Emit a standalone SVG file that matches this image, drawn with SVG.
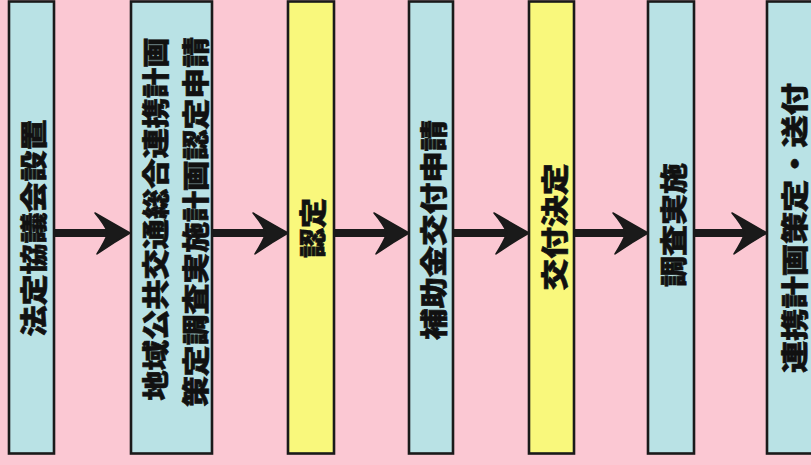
<svg xmlns="http://www.w3.org/2000/svg" width="811" height="465" viewBox="0 0 811 465">
<style>
.box{stroke:#1a1a1a;stroke-width:2.6}
.blue{fill:#b9e2e5}
.yellow{fill:#f9f87c}
.lbl{font-family:"Noto Sans CJK JP","Noto Sans CJK SC",sans-serif;font-weight:900;font-size:27px;fill:#111;stroke:#111;stroke-width:0.6;text-anchor:middle;dominant-baseline:central}
.conn{stroke:#1a1a1a;stroke-width:8;fill:none}
</style>
<defs>
<marker id="ah" viewBox="-56 -22 58 44" refX="-20" refY="0" markerWidth="58" markerHeight="44" markerUnits="userSpaceOnUse" orient="auto">
<path d="M0,0 Q-16,-9 -35,-20 Q-25,-8 -22,0 Q-25,8 -33,21 Q-16,9 0,0 Z" fill="#1a1a1a" stroke="#1a1a1a" stroke-width="1.5" stroke-linejoin="round"/>
</marker>
</defs>
<rect width="811" height="465" fill="#fbc8d3"/>
<g id="connectors">
<line class="conn" x1="54" y1="233" x2="110" y2="233" marker-end="url(#ah)"/>
<line class="conn" x1="212" y1="233" x2="268" y2="233" marker-end="url(#ah)"/>
<line class="conn" x1="334" y1="233" x2="389" y2="233" marker-end="url(#ah)"/>
<line class="conn" x1="453" y1="233" x2="509" y2="233" marker-end="url(#ah)"/>
<line class="conn" x1="574" y1="233" x2="628" y2="233" marker-end="url(#ah)"/>
<line class="conn" x1="694" y1="233" x2="747" y2="233" marker-end="url(#ah)"/>
</g>
<g id="n1">
<rect class="box blue" x="9" y="1.5" width="45" height="452"/>
<text class="lbl" transform="translate(32,228) rotate(-90)" textLength="217" lengthAdjust="spacingAndGlyphs">法定協議会設置</text>
</g>
<g id="n2">
<rect class="box blue" x="131" y="1.5" width="81" height="452"/>
<text class="lbl" transform="translate(154,219) rotate(-90)" textLength="363" lengthAdjust="spacingAndGlyphs">地域公共交通総合連携計画</text>
<text class="lbl" transform="translate(194,222) rotate(-90)" textLength="370" lengthAdjust="spacingAndGlyphs">策定調査実施計画認定申請</text>
</g>
<g id="n3">
<rect class="box yellow" x="288" y="1.5" width="46" height="452"/>
<text class="lbl" transform="translate(311,228) rotate(-90)" textLength="60" lengthAdjust="spacingAndGlyphs">認定</text>
</g>
<g id="n4">
<rect class="box blue" x="409" y="1.5" width="44" height="452"/>
<text class="lbl" transform="translate(432,230) rotate(-90)" textLength="220" lengthAdjust="spacingAndGlyphs">補助金交付申請</text>
</g>
<g id="n5">
<rect class="box yellow" x="529" y="1.5" width="45" height="452"/>
<text class="lbl" transform="translate(553,227) rotate(-90)" textLength="127" lengthAdjust="spacingAndGlyphs">交付決定</text>
</g>
<g id="n6">
<rect class="box blue" x="648" y="1.5" width="46" height="452"/>
<text class="lbl" transform="translate(672,225) rotate(-90)" textLength="124" lengthAdjust="spacingAndGlyphs">調査実施</text>
</g>
<g id="n7">
<rect class="box blue" x="767" y="1.5" width="60" height="452"/>
<text class="lbl" transform="translate(793,228) rotate(-90)" textLength="290" lengthAdjust="spacingAndGlyphs">連携計画策定・送付</text>
</g>
</svg>
